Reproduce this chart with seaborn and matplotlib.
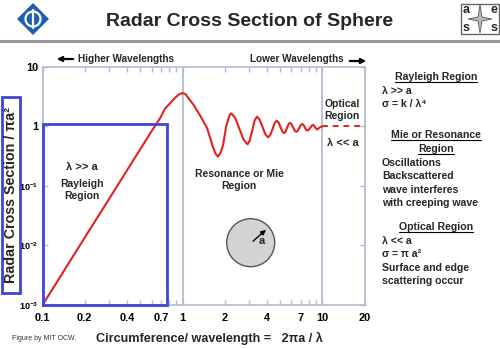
import numpy as np
import pandas as pd
import matplotlib
matplotlib.use("Agg")
import matplotlib.pyplot as plt
import seaborn as sns
from matplotlib.patches import Ellipse, Rectangle, Polygon, FancyArrowPatch
from matplotlib.lines import Line2D
from matplotlib.ticker import FixedLocator, NullFormatter

# ---------------- data ----------------
ka = [0.1, 0.2, 0.3, 0.4, 0.5, 0.6, 0.65, 0.7, 0.75, 0.8, 0.85, 0.9, 0.95,
      1.0, 1.05, 1.1, 1.2, 1.35, 1.5, 1.65, 1.72, 1.79, 1.87, 1.95, 2.05,
      2.15, 2.19, 2.23, 2.38, 2.55, 2.73, 2.92, 3.03, 3.15, 3.27, 3.40, 3.56,
      3.73, 3.91, 4.09, 4.24, 4.40, 4.56, 4.72, 4.86, 5.01, 5.16, 5.32, 5.45,
      5.58, 5.72, 5.86, 6.01, 6.17, 6.34, 6.50, 6.67, 6.83, 7.00, 7.18, 7.33,
      7.48, 7.64, 7.79, 7.99, 8.18, 8.38, 8.59, 8.73, 8.87, 9.02, 9.17, 9.4,
      9.7, 10.0]
rcs = [0.001, 0.0135, 0.0615, 0.181, 0.418, 0.83, 1.1, 1.45, 2.0, 2.35, 2.75,
       3.15, 3.5, 3.65, 3.5, 3.0, 2.3, 1.46, 0.93, 0.45, 0.35, 0.31, 0.36,
       0.49, 1.0, 1.46, 1.6, 1.66, 1.39, 0.91, 0.60, 0.50, 0.586, 0.855, 1.25,
       1.46, 1.30, 0.977, 0.736, 0.655, 0.72, 0.905, 1.137, 1.25, 1.164, 0.981,
       0.826, 0.77, 0.816, 0.941, 1.084, 1.15, 1.094, 0.965, 0.852, 0.81,
       0.847, 0.943, 1.05, 1.10, 1.059, 0.966, 0.881, 0.85, 0.877, 0.948,
       1.026, 1.06, 1.033, 0.971, 0.912, 0.89, 0.93, 0.98, 1.0]
optical_x = [10, 20]
optical_y = [1, 1]
rayleigh_box_x = [0.1, 0.77]
rayleigh_box_y = [0.001, 1.1]
x_tick_vals = [0.1, 0.2, 0.4, 0.7, 1, 2, 4, 7, 10, 20]
x_tick_labels = ["0.1", "0.2", "0.4", "0.7", "1", "2", "4", "7", "10", "20"]
x_minor_vals = [0.3, 0.5, 0.6, 0.8, 0.9, 3, 5, 6, 8, 9]
y_tick_vals = [1e-3, 1e-2, 1e-1, 1, 10]
y_tick_labels = [r"$\mathbf{10^{-3}}$", r"$\mathbf{10^{-2}}$", r"$\mathbf{10^{-1}}$", "1", "10"]
region_lines = [1, 10]

# ---------------- style ----------------
sns.set_style("white")
plt.rcParams["font.family"] = ["Liberation Sans", "DejaVu Sans"]
plt.rcParams["mathtext.fontset"] = "custom"
plt.rcParams["mathtext.rm"] = "Liberation Sans"
plt.rcParams["mathtext.bf"] = "Liberation Sans:bold"

W, H = 500, 349
fig = plt.figure(figsize=(5.0, 3.49), dpi=100)

def fx(px):
    return px / W

def fy(py):
    return 1 - py / H

ax = fig.add_axes([fx(42.7), fy(304.7), (364.5 - 42.7) / W, (304.7 - 67) / H])
ax.set_facecolor("white")

RED = "#e3211f"
BLUE = "#3f45d6"
SPINE = "#b3bccf"

df = pd.DataFrame({"ka": ka, "rcs": rcs})
sns.lineplot(data=df, x="ka", y="rcs", ax=ax, color=RED, lw=1.5, zorder=4)
dfo = pd.DataFrame({"ka": optical_x, "rcs": optical_y})
sns.lineplot(data=dfo, x="ka", y="rcs", ax=ax, color=RED, lw=1.4,
             linestyle=(0, (3, 2.5)), zorder=4)

ax.set_xscale("log")
ax.set_yscale("log")
ax.set_xlim(0.1, 20)
ax.set_ylim(1e-3, 10)

for v in region_lines:
    ax.axvline(v, color=SPINE, lw=1.3, zorder=1)

# Rayleigh blue box
bx0, bx1 = rayleigh_box_x
by0, by1 = rayleigh_box_y
ax.plot([bx0, bx1, bx1, bx0, bx0], [by0, by0, by1, by1, by0], color=BLUE,
        lw=2.0, clip_on=False, zorder=5, solid_joinstyle="miter")

for s in ax.spines.values():
    s.set_color(SPINE)
    s.set_linewidth(1.2)

ax.xaxis.set_major_locator(FixedLocator(x_tick_vals))
ax.set_xticklabels(x_tick_labels)
ax.xaxis.set_minor_locator(FixedLocator(x_minor_vals))
ax.xaxis.set_minor_formatter(NullFormatter())
ax.yaxis.set_major_locator(FixedLocator(y_tick_vals))
ax.set_yticklabels(y_tick_labels)
ax.yaxis.set_minor_locator(FixedLocator([]))
ax.tick_params(axis="x", which="both", direction="in", top=True, bottom=True,
               length=3.5, width=1.0, color=SPINE, pad=6)
ax.tick_params(axis="y", which="both", direction="in", left=True, right=True,
               length=3.5, width=1.0, color=SPINE, pad=3.2)
for lab in ax.get_xticklabels() + ax.get_yticklabels():
    lab.set_fontweight("bold")
    lab.set_fontsize(7.9)
    lab.set_color("black")
for lab in ax.get_yticklabels()[:3]:
    lab.set_fontsize(6.6)
ax.set_xlabel("")
ax.set_ylabel("")

# texts inside axes (positions)
def d2(px, py):
    return 10 ** ((px - 181) / 141), 10 ** ((126.4 - py) / 59.4)

ax.text(*d2(80, 167), "λ >> a", ha="center", va="center", fontsize=8,
        fontweight="bold")
ax.text(*d2(80, 190), "Rayleigh\nRegion", ha="center", va="center",
        fontsize=7.5, fontweight="bold", linespacing=1.3)
ax.text(*d2(238, 180), "Resonance or Mie\nRegion", ha="center", va="center",
        fontsize=7.5, fontweight="bold", linespacing=1.3)
ax.text(*d2(342, 110), "Optical\nRegion", ha="center", va="center",
        fontsize=7.5, fontweight="bold", linespacing=1.3)
ax.text(*d2(343, 143), "λ << a", ha="center", va="center", fontsize=8,
        fontweight="bold")

# sphere sketch
circ = Ellipse((fx(250.7), fy(242.7)), 48 / W, 48 / H, transform=fig.transFigure,
               facecolor="#d3d3d3", edgecolor="#555555", lw=1.0, zorder=6)
fig.patches.append(circ)
arr = FancyArrowPatch((fx(251), fy(243)), (fx(268), fy(228)),
                      transform=fig.transFigure, arrowstyle="-|>",
                      mutation_scale=7, color="black", lw=1.0, zorder=7)
fig.patches.append(arr)
fig.text(fx(262), fy(241), "a", ha="center", va="center", fontsize=8,
         fontweight="bold", zorder=8)

# title and header
fig.text(fx(250), fy(21), "Radar Cross Section of Sphere", ha="center",
         va="center", fontsize=14, fontweight="bold")
fig.add_artist(Line2D([0, 1], [fy(41), fy(41)], transform=fig.transFigure,
                      color="#9a9a9a", lw=2.2))

# left logo (diamond)
cx, cy, r = 33, 19, 16
fig.patches.append(Polygon([(fx(cx - r), fy(cy)), (fx(cx), fy(cy - r)),
                            (fx(cx + r), fy(cy)), (fx(cx), fy(cy + r))],
                           closed=True, transform=fig.transFigure,
                           facecolor="#1d5fae", edgecolor="none"))
fig.patches.append(Ellipse((fx(cx), fy(cy)), 15 / W, 15 / H,
                           transform=fig.transFigure, facecolor="none",
                           edgecolor="white", lw=1.6))
fig.add_artist(Line2D([fx(cx), fx(cx)], [fy(cy - 9), fy(cy + 9)],
                      transform=fig.transFigure, color="white", lw=1.6))

# right logo (aes)
lx0, ly0, lx1, ly1 = 461, 4, 499, 34
fig.patches.append(Rectangle((fx(lx0), fy(ly1)), (lx1 - lx0) / W, (ly1 - ly0) / H,
                             transform=fig.transFigure, facecolor="white",
                             edgecolor="#666666", lw=1.0))
mx, my = (lx0 + lx1) / 2, (ly0 + ly1) / 2
fig.patches.append(Polygon([(fx(mx - 12), fy(my)), (fx(mx - 2), fy(my - 2)),
                            (fx(mx), fy(ly0 + 1)), (fx(mx + 2), fy(my - 2)),
                            (fx(mx + 12), fy(my)), (fx(mx + 2), fy(my + 2)),
                            (fx(mx), fy(ly1 - 1)), (fx(mx - 2), fy(my + 2))],
                           closed=True, transform=fig.transFigure,
                           facecolor="#bbbbbb", edgecolor="#555555", lw=0.6))
for (tx, ty, ch) in [(466, 10, "a"), (494, 10, "e"), (466, 28, "s"), (494, 28, "s")]:
    fig.text(fx(tx), fy(ty), ch, ha="center", va="center", fontsize=9,
             fontweight="bold")

# wavelength arrows
fig.add_artist(FancyArrowPatch((fx(76), fy(59)), (fx(54), fy(59)),
                               transform=fig.transFigure, arrowstyle="-|>",
                               mutation_scale=7, color="black", lw=1.6))
fig.text(fx(78), fy(59), "Higher Wavelengths", ha="left", va="center",
         fontsize=7.2, fontweight="bold")
fig.text(fx(250), fy(59), "Lower Wavelengths", ha="left", va="center",
         fontsize=7.2, fontweight="bold")
fig.add_artist(FancyArrowPatch((fx(347), fy(61)), (fx(369), fy(61)),
                               transform=fig.transFigure, arrowstyle="-|>",
                               mutation_scale=7, color="black", lw=1.6))

# y label with blue frame
fig.patches.append(Rectangle((fx(2), fy(293)), 18 / W, 196 / H,
                             transform=fig.transFigure, facecolor="white",
                             edgecolor=BLUE, lw=2.0, zorder=3))
fig.text(fx(11.5), fy(195), "Radar Cross Section / πa²", rotation=90,
         ha="center", va="center", fontsize=10.3, fontweight="bold", zorder=4)

# x label and footer
fig.text(fx(96), fy(338), "Circumference/ wavelength =   2πa / λ", ha="left",
         va="center", fontsize=9.1, fontweight="bold")
fig.text(fx(12), fy(338), "Figure by MIT OCW.", ha="left", va="center",
         fontsize=5, color="#333333")

# right explanatory panel
under = []
def head(py, s):
    t = fig.text(fx(436), fy(py), s, ha="center", va="center", fontsize=7.6,
                 fontweight="bold")
    under.append(t)

def line(py, s):
    fig.text(fx(382), fy(py), s, ha="left", va="center", fontsize=7.6,
             fontweight="bold")

head(77, "Rayleigh Region")
line(91, "λ >> a")
line(104, "σ = k / λ⁴")
head(135, "Mie or Resonance")
head(149, "Region")
line(163, "Oscillations")
line(176, "Backscattered")
line(190, "wave interferes")
line(203, "with creeping wave")
head(227, "Optical Region")
line(241, "λ << a")
line(254, "σ = π a²")
line(268, "Surface and edge")
line(281, "scattering occur")

fig.canvas.draw()
rend = fig.canvas.get_renderer()
inv = fig.transFigure.inverted()
for t in under:
    bb = t.get_window_extent(rend)
    (x0, y0), (x1, _) = inv.transform([(bb.x0, bb.y0), (bb.x1, bb.y1)])
    fig.add_artist(Line2D([x0, x1], [y0 + 0.4 / H, y0 + 0.4 / H],
                          transform=fig.transFigure, color="black", lw=0.8))

fig.savefig("out.png", dpi=100)
